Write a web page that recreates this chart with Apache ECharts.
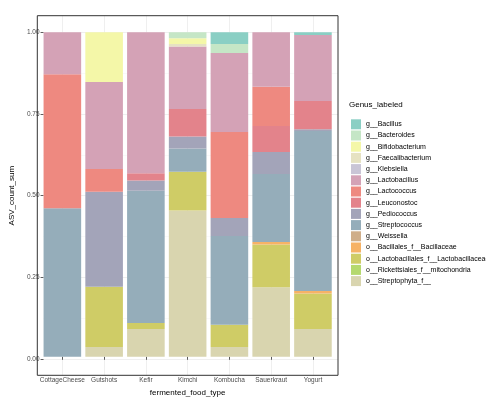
<!DOCTYPE html>
<html style="height: 100%">
<head>
<meta charset="utf-8">
<script src="https://cdn.jsdelivr.net/npm/echarts@6/dist/echarts.min.js"></script>
</head>
<body style="height: 100%; margin: 0; background: #fff">
<div id="container" style="width: 486px; height: 402px"></div>
<script type="text/javascript">
// food types on the x axis
var foodTypes = ['CottageCheese', 'Gutshots', 'Kefir', 'Kimchi', 'Kombucha', 'Sauerkraut', 'Yogurt'];

// relative abundance per genus, one value per food type
var bacillus         = [0, 0, 0, 0, 0.036, 0, 0.008];
var bacteroides      = [0, 0, 0, 0.018, 0.028, 0, 0];
var bifidobacterium  = [0, 0.153, 0, 0.018, 0, 0, 0];
var faecalibacterium = [0, 0, 0, 0.008, 0, 0, 0];
var klebsiella       = [0, 0, 0, 0, 0, 0, 0];
var lactobacillus    = [0.129, 0.268, 0.434, 0.192, 0.243, 0.168, 0.204];
var lactococcus      = [0.413, 0.070, 0, 0, 0.265, 0.121, 0];
var leuconostoc      = [0, 0, 0.023, 0.085, 0, 0.080, 0.087];
var pediococcus      = [0, 0.293, 0.031, 0.037, 0.056, 0.068, 0.005];
var streptococcus    = [0.458, 0, 0.408, 0.072, 0.273, 0.209, 0.493];
var weissella        = [0, 0, 0, 0, 0, 0, 0];
var bacillaceae      = [0, 0, 0, 0, 0, 0.008, 0.008];
var lactobacillaceae = [0, 0.186, 0.018, 0.119, 0.069, 0.132, 0.109];
var mitochondria     = [0, 0, 0, 0, 0, 0, 0];
var streptophyta     = [0, 0.030, 0.086, 0.451, 0.030, 0.214, 0.086];

// legend order (top of stack first)
var genusNames = [
    'g__Bacillus', 'g__Bacteroides', 'g__Bifidobacterium', 'g__Faecalibacterium',
    'g__Klebsiella', 'g__Lactobacillus', 'g__Lactococcus', 'g__Leuconostoc',
    'g__Pediococcus', 'g__Streptococcus', 'g__Weissella',
    'o__Bacillales_f__Bacillaceae', 'o__Lactobacillales_f__Lactobacillaceae',
    'o__Rickettsiales_f__mitochondria', 'o__Streptophyta_f__'
];
var genusValues = [
    bacillus, bacteroides, bifidobacterium, faecalibacterium, klebsiella,
    lactobacillus, lactococcus, leuconostoc, pediococcus, streptococcus, weissella,
    bacillaceae, lactobacillaceae, mitochondria, streptophyta
];
var genusColors = [
    '#8ACFC4', '#C5E6C6', '#F4F7A8', '#E6E2C2', '#C9C5D6', '#D4A2B6', '#EE8980',
    '#E3838B', '#A3A4B9', '#95ADBA', '#CFAE8A', '#F6B266', '#CFCC66', '#B5D96E', '#D9D5AF'
];
var yTicks = [0, 0.25, 0.5, 0.75, 1];

var FONT = 'Liberation Sans, Arial, sans-serif';
var PANEL_LEFT = 37.3, PANEL_TOP = 15.7, PANEL_W = 300.7, PANEL_H = 359.6;
var BAND = PANEL_W / 7.2;
var Y0_TOP = 32.3, Y0_H = 326.7;

var dom = document.getElementById('container');
var myChart = echarts.init(dom, null, {renderer: 'canvas'});

var series = [];
// ECharts stacks bottom-up, so push from the last legend entry
for (var k = genusNames.length - 1; k >= 0; k--) {
    series.push({
        name: genusNames[k],
        type: 'bar',
        stack: 'total',
        xAxisIndex: 2,
        yAxisIndex: 2,
        barWidth: '90%',
        itemStyle: {color: genusColors[k]},
        emphasis: {disabled: true},
        data: genusValues[k]
    });
}

var option = {
    animation: false,
    backgroundColor: '#fff',
    textStyle: {fontFamily: FONT},
    title: {
        text: 'Genus_labeled',
        left: 349,
        top: 101,
        textStyle: {fontFamily: FONT, fontSize: 8, fontWeight: 'normal', color: '#000'},
        padding: 0
    },
    legend: {
        orient: 'vertical',
        left: 351,
        top: 119.3,
        padding: 0,
        itemWidth: 10,
        itemHeight: 10,
        itemGap: 1.2,
        icon: 'rect',
        selectedMode: false,
        data: genusNames,
        textStyle: {fontFamily: FONT, fontSize: 7, color: '#000'}
    },
    grid: [
        // horizontal grid lines + y labels
        {left: PANEL_LEFT, top: Y0_TOP, width: PANEL_W, height: Y0_H},
        // vertical grid lines at category centres
        {left: PANEL_LEFT + 0.6 * BAND, top: PANEL_TOP, width: 6 * BAND, height: PANEL_H},
        // bars
        {left: PANEL_LEFT + 0.1 * BAND, top: Y0_TOP, width: 7 * BAND, height: Y0_H},
        // panel border
        {left: PANEL_LEFT, top: PANEL_TOP, width: PANEL_W, height: PANEL_H, show: true,
         borderColor: '#333333', borderWidth: 1, backgroundColor: 'transparent', z: 10}
    ],
    xAxis: [
        {gridIndex: 0, type: 'value', show: false},
        {gridIndex: 1, type: 'value', min: 0, max: 6, interval: 1,
         axisLine: {show: false}, axisTick: {show: false}, axisLabel: {show: false},
         splitLine: {show: true, lineStyle: {color: '#EBEBEB', width: 0.8}}},
        {gridIndex: 2, type: 'category', data: foodTypes, boundaryGap: true,
         position: 'bottom', offset: PANEL_TOP + PANEL_H - Y0_TOP - Y0_H,
         axisLine: {show: false},
         axisTick: {show: true, alignWithLabel: true, length: 3, lineStyle: {color: '#333333', width: 0.8}},
         axisLabel: {fontFamily: FONT, fontSize: 6.5, color: '#4D4D4D', margin: 4, interval: 0},
         splitLine: {show: false},
         name: 'fermented_food_type', nameLocation: 'middle', nameGap: 15,
         nameTextStyle: {fontFamily: FONT, fontSize: 8, color: '#000'}},
        {gridIndex: 3, type: 'value', show: false}
    ],
    yAxis: [
        {gridIndex: 0, type: 'value', min: 0, max: 1, interval: 0.25,
         axisLine: {show: false},
         axisTick: {show: true, length: 3, lineStyle: {color: '#333333', width: 0.8}},
         axisLabel: {fontFamily: FONT, fontSize: 6.5, color: '#4D4D4D', margin: 4,
                     formatter: function (v) { return v.toFixed(2); }},
         splitLine: {show: true, lineStyle: {color: '#EBEBEB', width: 0.8}},
         minorTick: {show: false, splitNumber: 2},
         minorSplitLine: {show: true, lineStyle: {color: '#F3F3F3', width: 0.5}},
         name: 'ASV_count_sum', nameLocation: 'middle', nameGap: 22,
         nameTextStyle: {fontFamily: FONT, fontSize: 8, color: '#000'}},
        {gridIndex: 1, type: 'value', show: false},
        {gridIndex: 2, type: 'value', min: 0, max: 1, show: false},
        {gridIndex: 3, type: 'value', show: false}
    ],
    series: series
};

myChart.setOption(option);
</script>
</body>
</html>
